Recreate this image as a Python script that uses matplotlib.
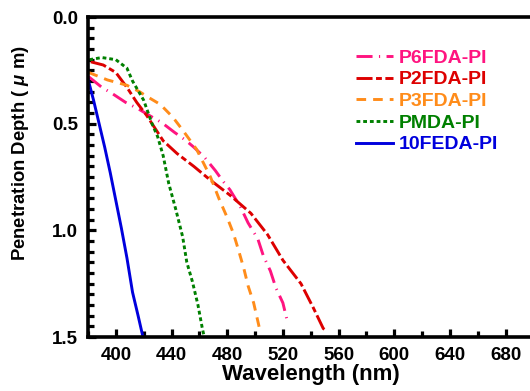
import numpy as np
import matplotlib
matplotlib.use("Agg")
import matplotlib.pyplot as plt
from matplotlib.ticker import MultipleLocator

plt.rcParams['font.family'] = ['Liberation Sans', 'DejaVu Sans']
plt.rcParams['font.weight'] = 'bold'
plt.rcParams['mathtext.fontset'] = 'custom'
plt.rcParams['mathtext.it'] = 'Liberation Sans:bold:italic'
plt.rcParams['mathtext.rm'] = 'Liberation Sans:bold'

# Data
p6_x = [380.5, 390, 397, 407, 416, 425, 433, 442, 450, 456, 464, 471.5, 477, 482, 489.5, 495, 502, 506, 511, 515, 520, 523.5]
p6_y = [0.28, 0.33, 0.357, 0.40, 0.43, 0.465, 0.495, 0.54, 0.577, 0.61, 0.66, 0.72, 0.77, 0.81, 0.89, 0.965, 1.04, 1.12, 1.19, 1.27, 1.34, 1.435]

p2_x = [382, 391, 400, 408, 415, 422, 428, 434, 444, 456, 468, 482, 497, 509, 520, 533, 542, 549, 551]
p2_y = [0.21, 0.225, 0.26, 0.33, 0.40, 0.46, 0.52, 0.58, 0.64, 0.70, 0.765, 0.835, 0.92, 1.02, 1.14, 1.25, 1.365, 1.46, 1.47]

p3_x = [380.5, 394, 408, 417, 423, 432, 441, 448, 458, 468, 474, 480, 484.5, 488, 492, 495, 499, 502.5, 503.5]
p3_y = [0.26, 0.295, 0.32, 0.35, 0.375, 0.41, 0.47, 0.53, 0.62, 0.75, 0.85, 0.94, 1.015, 1.09, 1.18, 1.26, 1.34, 1.44, 1.47]

pm_x = [381, 390, 400, 408, 412, 420, 426, 430, 434, 438, 443, 448, 451, 455, 459, 462, 463.5]
pm_y = [0.20, 0.19, 0.20, 0.24, 0.30, 0.39, 0.50, 0.56, 0.65, 0.78, 0.90, 1.03, 1.15, 1.24, 1.35, 1.455, 1.5]

fe_x = [380, 384, 388, 392, 396, 400, 404, 408, 412, 416, 419.5]
fe_y = [0.29, 0.39, 0.50, 0.61, 0.73, 0.86, 0.99, 1.13, 1.29, 1.40, 1.5]

labels = ['P6FDA-PI', 'P2FDA-PI', 'P3FDA-PI', 'PMDA-PI', '10FEDA-PI']
colors = ['#FF1480', '#DD0000', '#FF8C1A', '#008000', '#0000DD']

fig = plt.figure(figsize=(5.30, 3.91), dpi=100)
ax = fig.add_axes([0.166, 0.138, 0.8406, 0.8185])

lw = 2.1
ax.plot(p6_x, p6_y, color=colors[0], lw=lw, linestyle=(0, (5.5, 2.2, 0.4, 2.2)), label=labels[0])
ax.plot(p2_x, p2_y, color=colors[1], lw=lw, linestyle=(0, (5.5, 1.2, 2.0, 1.2)), label=labels[1])
ax.plot(p3_x, p3_y, color=colors[2], lw=lw, linestyle=(0, (3.3, 2.4)), label=labels[2])
ax.plot(pm_x, pm_y, color=colors[3], lw=lw, linestyle=(0, (1.3, 1.0)), label=labels[3])
ax.plot(fe_x, fe_y, color=colors[4], lw=lw, linestyle='-', label=labels[4])

ax.set_xlim(380, 700)
ax.set_ylim(1.5, 0.0)
ax.xaxis.set_major_locator(MultipleLocator(40))
ax.xaxis.set_minor_locator(MultipleLocator(20))
ax.yaxis.set_major_locator(MultipleLocator(0.5))
ax.yaxis.set_minor_locator(MultipleLocator(0.05))
ax.tick_params(which='major', direction='in', length=6, width=2.3, labelsize=13.5, pad=7)
ax.tick_params(which='minor', direction='in', length=4, width=2.3)
ax.tick_params(axis='y', which='both', right=False)
ax.tick_params(axis='x', which='both', top=False)
ax.yaxis.set_major_formatter(matplotlib.ticker.FormatStrFormatter('%.1f'))
for s in ax.spines.values():
    s.set_linewidth(2.6)

ax.set_xlabel('Wavelength (nm)', fontsize=16, fontweight='bold', labelpad=0)
ax.set_ylabel('Penetration Depth ( $\\mathit{\\mu}$ m)', fontsize=13.3, fontweight='bold')
ax.yaxis.set_label_coords(-0.128, 0.575)

leg = ax.legend(loc='upper left', bbox_to_anchor=(0.602, 0.90), frameon=False,
                prop={'size': 14, 'weight': 'bold'}, handlelength=1.9, handletextpad=0.3,
                labelspacing=0.21, borderaxespad=0, borderpad=0)
for t, c in zip(leg.get_texts(), colors):
    t.set_color(c)

fig.savefig('out.png', dpi=100)
